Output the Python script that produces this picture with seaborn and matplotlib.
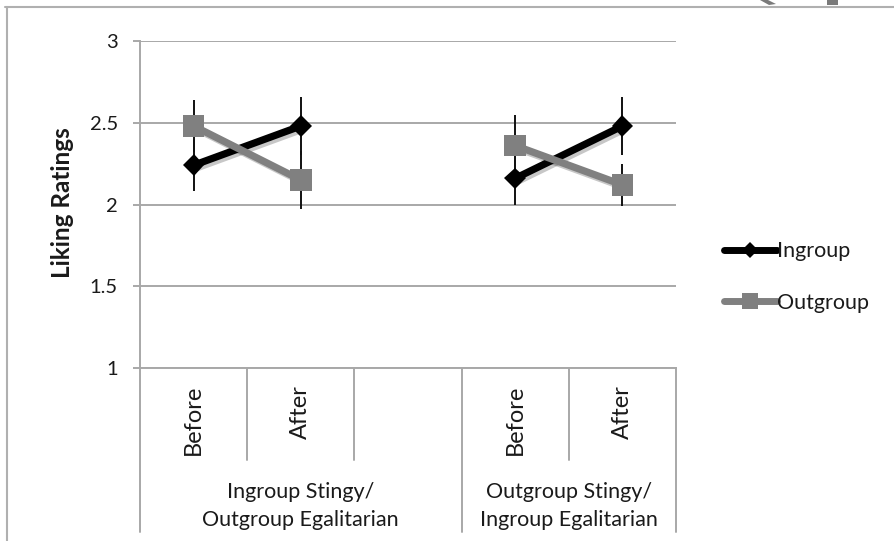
import matplotlib
matplotlib.use("Agg")
import matplotlib.pyplot as plt
import matplotlib.patheffects as pe
import matplotlib.transforms as mtrans
from matplotlib.lines import Line2D
from matplotlib.patches import Rectangle, Polygon
import seaborn as sns
import pandas as pd

# ---------------- data ----------------
slot_labels = ["Before", "After", "", "Before", "After"]
slot_group = [0, 0, 0, 1, 1]
conditions = ["Ingroup Stingy/\nOutgroup Egalitarian", "Outgroup Stingy/\nIngroup Egalitarian"]
series = ["Ingroup", "Outgroup"]
ingroup_mean = [2.24, 2.48, 2.16, 2.48]
outgroup_mean = [2.48, 2.15, 2.36, 2.12]
ingroup_err = [0.16, 0.18, 0.16, 0.18]
outgroup_err = [0.16, 0.18, 0.19, 0.13]
y_ticks = [1, 1.5, 2, 2.5, 3]
y_tick_labels = ["1", "1.5", "2", "2.5", "3"]

point_slots = [i for i, l in enumerate(slot_labels) if l]
df = pd.DataFrame({
    "x": point_slots * 2,
    "rating": ingroup_mean + outgroup_mean,
    "err": ingroup_err + outgroup_err,
    "target": ["Ingroup"] * len(point_slots) + ["Outgroup"] * len(point_slots),
    "cond": [slot_group[s] for s in point_slots] * 2,
})

colors = {"Ingroup": "#000000", "Outgroup": "#808080"}
markers = {"Ingroup": "D", "Outgroup": "s"}
msizes = {"Ingroup": 11, "Outgroup": 15.5}

sns.set_theme(style="white")
plt.rcParams["font.family"] = ["Lato", "DejaVu Sans"]

W, H = 894, 541
fig = plt.figure(figsize=(W / 100, H / 100), dpi=100)
ax = fig.add_axes([140 / W, (H - 368) / H, (676 - 140) / W, (368 - 41) / H])

grid_c = "#a8a8a8"
text_c = "#1a1a1a"

# error bars
ax.errorbar(df["x"], df["rating"], yerr=df["err"], fmt="none",
            ecolor="#111111", elinewidth=1.4, capsize=0, zorder=2)

shadow = [pe.SimpleLineShadow(offset=(2, -2), alpha=0.22, shadow_color="black"), pe.Normal()]
for s in series:
    sub = df[df["target"] == s]
    sns.lineplot(data=sub, x="x", y="rating", units="cond", estimator=None,
                 color=colors[s], marker=markers[s], markersize=msizes[s],
                 markeredgewidth=0, linewidth=5.2, ax=ax, zorder=3,
                 path_effects=shadow, legend=False)

ax.set_xlim(-0.5, len(slot_labels) - 0.5)
ax.set_ylim(1, 3)
ax.set_yticks(y_ticks)
ax.set_yticklabels(y_tick_labels)
ax.set_xticks([])
ax.set_xlabel("")
ax.set_ylabel("")
ax.yaxis.grid(True, color=grid_c, lw=1.4)
ax.set_axisbelow(True)
for sp in ["top", "right"]:
    ax.spines[sp].set_visible(False)
for sp in ["left", "bottom"]:
    ax.spines[sp].set_color(grid_c)
    ax.spines[sp].set_linewidth(1.4)
ax.tick_params(axis="y", left=True, length=5, width=1.4, color=grid_c,
               labelsize=14.5, labelcolor=text_c, pad=11)

# multi-level category axis
bt = mtrans.blended_transform_factory(ax.transData, ax.transAxes)
ah = 368 - 41
for i, lab in enumerate(slot_labels):
    if lab:
        ax.text(i, -(385 - 368) / ah, lab, transform=bt, rotation=90,
                ha="center", va="top", fontsize=17, color=text_c)
# separators
for b in range(len(slot_labels) + 1):
    xb = b - 0.5
    is_group_edge = (b == 0 or b == len(slot_labels) or slot_group[b] != slot_group[b - 1])
    y_end = -(532 - 368) / ah if is_group_edge else -(460 - 368) / ah
    ax.plot([xb, xb], [0, y_end], transform=bt, clip_on=False, color=grid_c, lw=1.4)
for g, name in enumerate(conditions):
    idx = [i for i, sg in enumerate(slot_group) if sg == g]
    xc = (idx[0] - 0.5 + idx[-1] + 0.5) / 2
    ax.text(xc, -(506 - 368) / ah, name, transform=bt, ha="center", va="center",
            fontsize=15.5, color=text_c, linespacing=1.45)

# y label
fig.text(63 / W, 1 - 203 / H, "Liking Ratings", rotation=90, ha="center", va="center",
         fontsize=17.5, fontweight="bold", color=text_c)

# legend
handles = [Line2D([], [], color=colors[s], lw=5, marker=markers[s],
                  markersize=msizes[s] * 0.75, markeredgewidth=0) for s in series]
fig.legend(handles, series, loc="center left", bbox_to_anchor=(713 / W, 1 - 277 / H),
           frameon=False, fontsize=15.5, handlelength=2.45, handletextpad=0.0,
           labelspacing=1.45, labelcolor=text_c, borderpad=0)

# figure frame
fig.add_artist(Line2D([5 / W, 1], [1 - 6.5 / H, 1 - 6.5 / H], transform=fig.transFigure,
                      color="#b0b0b0", lw=1.5))
fig.add_artist(Line2D([7 / W, 7 / W], [1 - 6.5 / H, 0], transform=fig.transFigure,
                      color="#b0b0b0", lw=1.5))
# clipped fragments at the top edge
fig.add_artist(Rectangle((827 / W, 1 - 5 / H), 11 / W, 5 / H, transform=fig.transFigure,
                         color="#7a7a7a", lw=0))
fig.add_artist(Polygon([(760 / W, 1), (768 / W, 1), (776 / W, 1 - 4 / H), (769 / W, 1 - 5 / H)],
                       closed=True, transform=fig.transFigure, color="#7a7a7a", lw=0))

fig.savefig("out.png", dpi=100)
